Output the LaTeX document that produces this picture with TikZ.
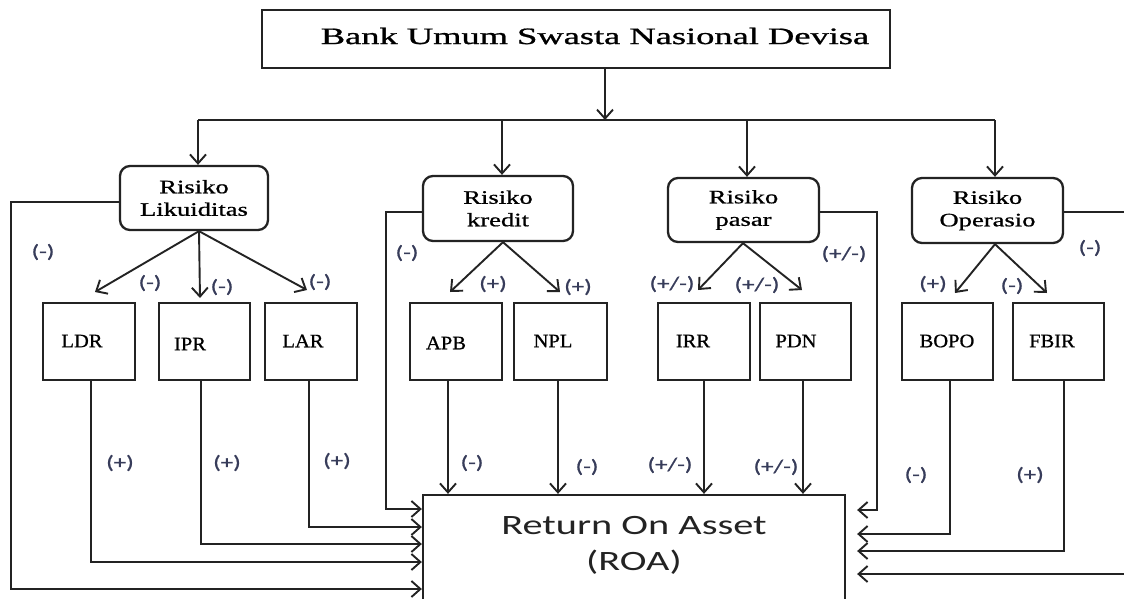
\documentclass[tikz,border=0pt]{standalone}
\usepackage{graphicx}
\usepackage{fontspec}
\setmainfont{Liberation Serif}[FakeBold=0.8]
\newfontfamily\calib{Carlito}[FakeBold=0.8]
\newfontfamily\calibreg{Carlito}
\usetikzlibrary{arrows.meta}
\definecolor{ln}{RGB}{35,35,35}
\definecolor{lbl}{RGB}{55,60,90}
\newcommand{\mystretch}[2]{\scalebox{#1}[1]{#2}}
\begin{document}
\begin{tikzpicture}[x=1pt,y=-1pt,
  line/.style={draw=ln, line width=1.9pt},
  con/.style={line, -{Straight Barb[length=9pt,width=16pt]}},
  bx/.style={draw=ln, line width=2.3pt, inner sep=0pt, fill=white},
  risk/.style={bx, rounded corners=10pt, align=center, font=\fontsize{19}{22.5}\selectfont},
  leaf/.style={bx, minimum width=92pt, minimum height=77pt},
  leaftxt/.style={inner sep=0pt, font=\fontsize{19}{22}\selectfont},
  lab/.style={inner sep=0pt, text=lbl, font=\calib\fontsize{18.5}{20}\selectfont}]
\fill[white] (0,0) rectangle (1124,598);
\useasboundingbox (0,0) rectangle (1124,598);
\clip (0,0) rectangle (1124,598);

% title
\node[bx, minimum width=628pt, minimum height=58pt] (title) at (576,39) {};
\node[inner sep=0pt, font=\fontsize{23.5}{27}\selectfont] (titletext) at (595,36) {\mystretch{1.55}{Bank Umum Swasta Nasional Devisa}};

% risk boxes
\node[risk, minimum width=148pt, minimum height=64pt] (lik) at (194,198) {\mystretch{1.4}{Risiko}\\\mystretch{1.4}{Likuiditas}};
\node[risk, minimum width=150pt, minimum height=65pt] (kre) at (498,208.5) {\mystretch{1.4}{Risiko}\\\mystretch{1.4}{kredit}};
\node[risk, minimum width=151pt, minimum height=64pt] (pas) at (743.5,210) {\mystretch{1.4}{Risiko}\\\mystretch{1.4}{pasar}};
\node[risk, minimum width=151pt, minimum height=65pt] (ope) at (987.5,210.5) {\mystretch{1.4}{Risiko}\\\mystretch{1.4}{Operasio}};

% leaf boxes
\node[leaf] (ldr) at (89,341.5) {};
\node[leaf, minimum width=91pt] (ipr) at (204.5,341.5) {};
\node[leaf] (lar) at (311,341.5) {};
\node[leaf] (apb) at (456,341.5) {};
\node[leaf, minimum width=93pt] (npl) at (560.5,341.5) {};
\node[leaf] (irr) at (704,341.5) {};
\node[leaf, minimum width=91pt] (pdn) at (805.5,341.5) {};
\node[leaf, minimum width=91pt] (bopo) at (947.5,341.5) {};
\node[leaf, minimum width=91pt] (fbir) at (1058.5,341.5) {};
\node[leaftxt] (ldrt) at (82,341) {\mystretch{1.08}{LDR}};
\node[leaftxt] (iprt) at (190,344) {\mystretch{1.08}{IPR}};
\node[leaftxt] (lart) at (303,341) {\mystretch{1.08}{LAR}};
\node[leaftxt] (apbt) at (446,343) {\mystretch{1.08}{APB}};
\node[leaftxt] (nplt) at (553,341) {\mystretch{1.08}{NPL}};
\node[leaftxt] (irrt) at (693,341) {\mystretch{1.08}{IRR}};
\node[leaftxt] (pdnt) at (796,341) {\mystretch{1.08}{PDN}};
\node[leaftxt] (bopot) at (947,341) {\mystretch{1.08}{BOPO}};
\node[leaftxt] (fbirt) at (1052,341) {\mystretch{1.08}{FBIR}};

% ROA
\node[bx, minimum width=422pt, minimum height=116pt] (roa) at (634,553) {};
\node[inner sep=0pt, align=center, text=ln, font=\calibreg\fontsize{28}{36}\selectfont] (roat) at (634,545) {\mystretch{1.44}{Return On Asset}\\\mystretch{1.44}{(ROA)}};

% bus
\coordinate (t1) at (605,120);
\coordinate (b1) at (198,120);
\coordinate (b2) at (502,120);
\coordinate (b3) at (747,120);
\coordinate (b4) at (995,120);
\draw[line] (b1) -- (b4);
\draw[con] (title.south -| t1) -- (t1);
\draw[con] (b1) -- (b1 |- lik.north);
\draw[con] (b2) -- (b2 |- kre.north);
\draw[con] (b3) -- (b3 |- pas.north);
\draw[con] (b4) -- (b4 |- ope.north);

% diagonal arrows
\coordinate (slik) at (199,0);
\coordinate (skre) at (503,0);
\coordinate (spas) at (743,0);
\coordinate (sope) at (995,0);
\coordinate (tldr) at (95,292);
\coordinate (tipr) at (200,298);
\coordinate (tlar) at (307,290);
\coordinate (tapb) at (450,292);
\coordinate (tnpl) at (560,292);
\coordinate (tirr) at (698,290);
\coordinate (tpdn) at (802,290);
\coordinate (tbopo) at (955,293);
\coordinate (tfbir) at (1047,293);
\draw[con] (lik.south -| slik) -- (tldr);
\draw[con] (lik.south -| slik) -- (tipr);
\draw[con] (lik.south -| slik) -- (tlar);
\draw[con] (kre.south -| skre) -- (tapb);
\draw[con] (kre.south -| skre) -- (tnpl);
\draw[con] (pas.south -| spas) -- (tirr);
\draw[con] (pas.south -| spas) -- (tpdn);
\draw[con] (ope.south -| sope) -- (tbopo);
\draw[con] (ope.south -| sope) -- (tfbir);

% side lines from risk boxes
\coordinate (ys1) at (0,202);
\coordinate (ys2) at (0,212);
\coordinate (c1) at (11,589);
\coordinate (c2) at (386,509);
\coordinate (c3) at (877,510);
\coordinate (c4) at (1135,574);
\draw[con] (lik.west |- ys1) -| (c1) -- (roa.west |- c1);
\draw[con] (kre.west |- ys2) -| (c2) -- (roa.west |- c2);
\draw[con, shorten >=11pt] (pas.east |- ys2) -| (c3) -- (roa.east |- c3);
\draw[con, shorten >=11pt] (ope.east |- ys2) -| (c4) -- (roa.east |- c4);

% leaves to ROA
\coordinate (e1) at (91,562);
\coordinate (e2) at (201,544);
\coordinate (e3) at (309,527);
\coordinate (e4) at (448,0);
\coordinate (e5) at (558,0);
\coordinate (e6) at (704,0);
\coordinate (e7) at (803,0);
\coordinate (e8) at (950,534);
\coordinate (e9) at (1064,551);
\draw[con] (ldr.south -| e1) |- (roa.west |- e1);
\draw[con] (ipr.south -| e2) |- (roa.west |- e2);
\draw[con] (lar.south -| e3) |- (roa.west |- e3);
\draw[con] (apb.south -| e4) -- (roa.north -| e4);
\draw[con] (npl.south -| e5) -- (roa.north -| e5);
\draw[con] (irr.south -| e6) -- (roa.north -| e6);
\draw[con] (pdn.south -| e7) -- (roa.north -| e7);
\draw[con, shorten >=11pt] (bopo.south -| e8) |- (roa.east |- e8);
\draw[con, shorten >=11pt] (fbir.south -| e9) |- (roa.east |- e9);

% labels
\node[lab] (l1) at (43,252) {\mystretch{1.35}{(-)}};
\node[lab] (l2) at (150,283) {\mystretch{1.35}{(-)}};
\node[lab] (l3) at (222,287) {\mystretch{1.35}{(-)}};
\node[lab] (l4) at (320,282) {\mystretch{1.35}{(-)}};
\node[lab] (l5) at (407,253) {\mystretch{1.35}{(-)}};
\node[lab] (l6) at (493,284) {\mystretch{1.35}{(+)}};
\node[lab] (l7) at (578,287) {\mystretch{1.35}{(+)}};
\node[lab] (l8) at (672,284) {\mystretch{1.35}{(+/-)}};
\node[lab] (l9) at (757,285) {\mystretch{1.35}{(+/-)}};
\node[lab] (l10) at (844,254) {\mystretch{1.35}{(+/-)}};
\node[lab] (l11) at (933,284) {\mystretch{1.35}{(+)}};
\node[lab] (l12) at (1012,286) {\mystretch{1.35}{(-)}};
\node[lab] (l13) at (1090,248) {\mystretch{1.35}{(-)}};
\node[lab] (l14) at (120,463) {\mystretch{1.35}{(+)}};
\node[lab] (l15) at (227,463) {\mystretch{1.35}{(+)}};
\node[lab] (l16) at (337,461) {\mystretch{1.35}{(+)}};
\node[lab] (l17) at (472,463) {\mystretch{1.35}{(-)}};
\node[lab] (l18) at (587,467) {\mystretch{1.35}{(-)}};
\node[lab] (l19) at (670,465) {\mystretch{1.35}{(+/-)}};
\node[lab] (l20) at (776,467) {\mystretch{1.35}{(+/-)}};
\node[lab] (l21) at (916,475) {\mystretch{1.35}{(-)}};
\node[lab] (l22) at (1030,475) {\mystretch{1.35}{(+)}};
\end{tikzpicture}
\end{document}
